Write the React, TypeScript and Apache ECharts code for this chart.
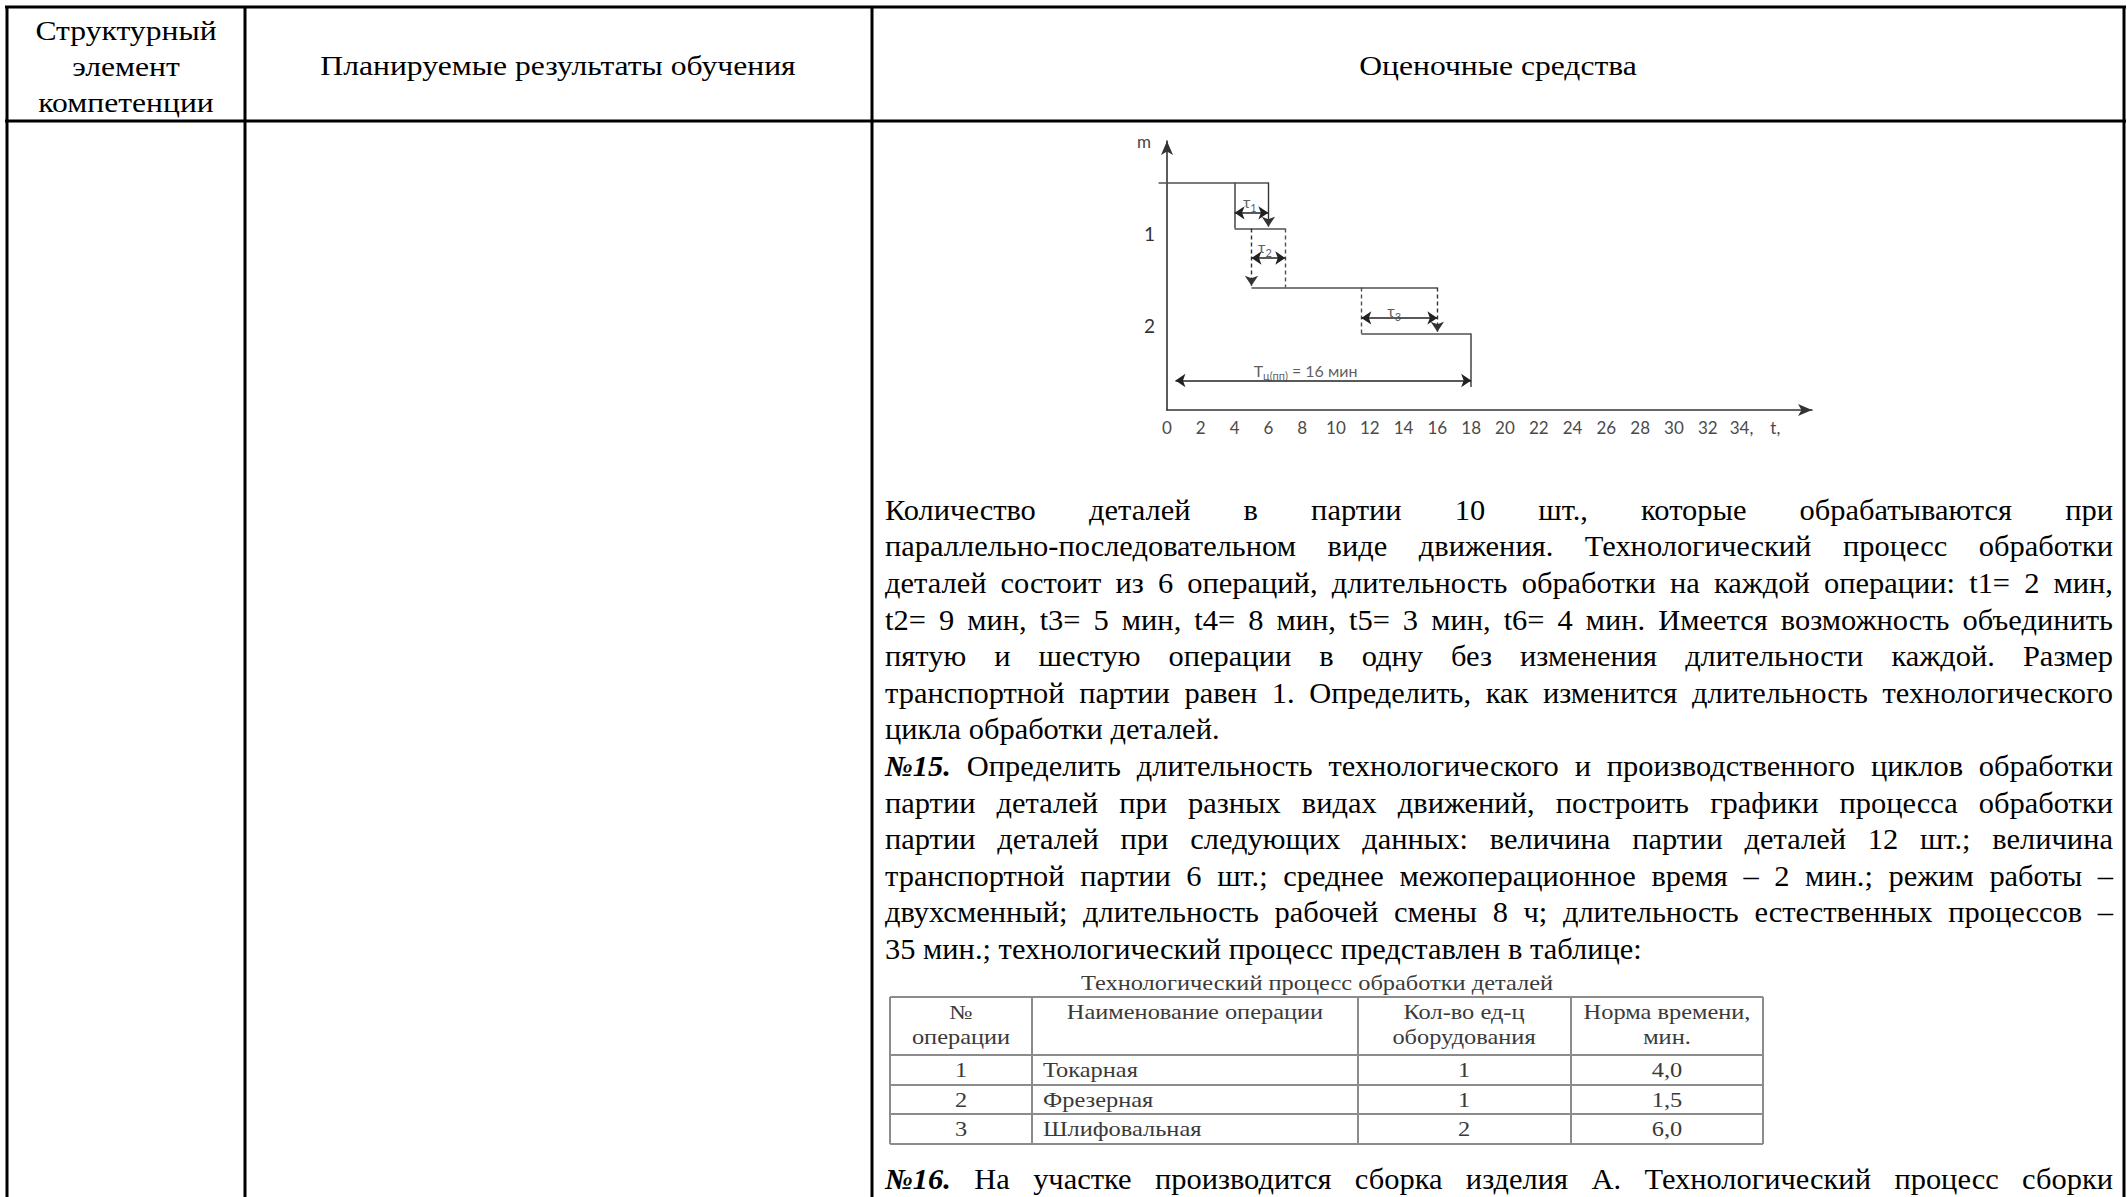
import React, { useEffect, useRef } from 'react';
import * as echarts from 'echarts';

const W = 2127;
const H = 1197;

// ---------- document texts ----------
const headerCol1 = ['Структурный', 'элемент', 'компетенции'];
const headerCol2 = 'Планируемые результаты обучения';
const headerCol3 = 'Оценочные средства';

const bodyLines = [
  { lead: '', text: 'Количество деталей в партии 10 шт., которые обрабатываются при', justify: true },
  { lead: '', text: 'параллельно-последовательном виде движения. Технологический процесс обработки', justify: true },
  { lead: '', text: 'деталей состоит из 6 операций, длительность обработки на каждой операции: t1= 2 мин,', justify: true },
  { lead: '', text: 't2= 9 мин, t3= 5 мин, t4= 8 мин, t5= 3 мин, t6= 4 мин. Имеется возможность объединить', justify: true },
  { lead: '', text: 'пятую и шестую операции в одну без изменения длительности каждой. Размер', justify: true },
  { lead: '', text: 'транспортной партии равен 1. Определить, как изменится длительность технологического', justify: true },
  { lead: '', text: 'цикла обработки деталей.', justify: false },
  { lead: '№15.', text: 'Определить длительность технологического и производственного циклов обработки', justify: true },
  { lead: '', text: 'партии деталей при разных видах движений, построить графики процесса обработки', justify: true },
  { lead: '', text: 'партии деталей при следующих данных: величина партии деталей 12 шт.; величина', justify: true },
  { lead: '', text: 'транспортной партии 6 шт.; среднее межоперационное время – 2 мин.; режим работы –', justify: true },
  { lead: '', text: 'двухсменный; длительность рабочей смены 8 ч; длительность естественных процессов –', justify: true },
  { lead: '', text: '35 мин.; технологический процесс представлен в таблице:', justify: false },
];
const lastLine = { lead: '№16.', text: 'На участке производится сборка изделия А. Технологический процесс сборки', justify: true };

const tableCaption = 'Технологический процесс обработки деталей';
const tableHeader = [
  ['№', 'операции'],
  ['Наименование операции', ''],
  ['Кол-во ед-ц', 'оборудования'],
  ['Норма времени,', 'мин.'],
];
const opNumbers = ['1', '2', '3'];
const opNames = ['Токарная', 'Фрезерная', 'Шлифовальная'];
const opEquipment = ['1', '1', '2'];
const opNorms = ['4,0', '1,5', '6,0'];

// ---------- chart data (t in minutes, m = operation axis, downward) ----------
const solidSegments: number[][][] = [
  [[-0.5, 0.45], [6, 0.45]],
  [[4, 0.45], [4, 0.95]],
  [[4, 0.95], [7, 0.95]],
  [[5, 1.59], [16, 1.59]],
  [[11.5, 2.09], [18, 2.09]],
  [[18, 2.09], [18, 2.67]],
];
const dashedSegments: number[][][] = [
  [[7, 0.95], [7, 1.59]],
  [[11.5, 1.59], [11.5, 2.09]],
];
const solidDownArrows: number[][][] = [
  [[6, 0.45], [6, 0.93]],
];
const dashedDownArrows: number[][][] = [
  [[5, 0.95], [5, 1.57]],
  [[16, 1.59], [16, 2.07]],
];
const doubleArrows: number[][][] = [
  [[4, 0.78], [6, 0.78]],
  [[5, 1.27], [7, 1.27]],
  [[11.5, 1.92], [16, 1.92]],
  [[0.5, 2.6], [18, 2.6]],
];
const tauLabels = [
  { pos: [4.9, 0.66], main: 'τ', sub: '1', tail: '' },
  { pos: [5.8, 1.15], main: 'τ', sub: '2', tail: '' },
  { pos: [13.45, 1.84], main: 'τ', sub: '3', tail: '' },
  { pos: [8.2, 2.49], main: 'T', sub: 'ц(пп)', tail: ' = 16 мин' },
];
const xSpecialLabels: Record<number, string> = { 34: '34,', 36: 't,' };
const yLabels: Record<number, string> = { 1: '1', 2: '2' };

const SERIF = '"Liberation Serif", "Times New Roman", serif';

export default function App() {
  const ref = useRef<HTMLDivElement>(null);

  useEffect(() => {
    const el = ref.current!;
    const chart = echarts.init(el, null, { renderer: 'svg', width: W, height: H });
    const canvas = document.createElement('canvas');
    const ctx = canvas.getContext('2d')!;
    const measure = (s: string, font: string) => {
      ctx.font = font;
      return ctx.measureText(s).width;
    };

    const g: any[] = [];
    const line = (x1: number, y1: number, x2: number, y2: number, stroke: string, lw: number) =>
      g.push({ type: 'line', silent: true, shape: { x1, y1, x2, y2 }, style: { stroke, lineWidth: lw } });
    const text = (t: string, x: number, y: number, opts: any = {}) =>
      g.push({
        type: 'text',
        silent: true,
        x,
        y,
        scaleX: opts.scaleX || 1,
        style: {
          text: t,
          fontFamily: SERIF,
          fontSize: opts.fontSize || 29,
          fontWeight: opts.fontWeight || 'normal',
          fontStyle: opts.fontStyle || 'normal',
          fill: opts.fill || '#000',
          align: opts.align || 'left',
          textAlign: opts.align || 'left',
          verticalAlign: 'middle',
          textVerticalAlign: 'middle',
        },
      });

    // outer table
    const cols = [7, 245, 872, 2124];
    line(5, 7, 2126, 7, '#000', 3);
    line(5, 121, 2126, 121, '#000', 3);
    cols.forEach((x) => line(x, 6, x, H, '#000', 3));

    // header texts
    const hOpt = { fontSize: 28, scaleX: 1.13, align: 'center' };
    headerCol1.forEach((t, i) => text(t, 126, 30 + i * 36, hOpt));
    text(headerCol2, 558, 65, hOpt);
    text(headerCol3, 1498, 65, hOpt);

    // body paragraphs (justified)
    const left = 885;
    const right = 2113;
    const fs = 29;
    const sx = 1.05;
    const fontN = `${fs}px ${SERIF}`;
    const fontBI = `italic bold ${fs}px ${SERIF}`;
    const drawLine = (ln: { lead: string; text: string; justify: boolean }, y: number) => {
      const words: { w: string; bi: boolean }[] = [];
      if (ln.lead) words.push({ w: ln.lead, bi: true });
      ln.text.split(' ').forEach((w) => words.push({ w, bi: false }));
      const raw = words.map((o) => measure(o.w, o.bi ? fontBI : fontN));
      const rawTotal = raw.reduce((a, b) => a + b, 0);
      const space = measure(' ', fontN);
      let s = sx;
      if (ln.justify && rawTotal * s + (words.length - 1) * space * 0.8 > right - left) {
        s = (right - left - (words.length - 1) * space * 0.8) / rawTotal;
      }
      const widths = raw.map((w) => w * s);
      const total = widths.reduce((a, b) => a + b, 0);
      const gap = ln.justify && words.length > 1 ? (right - left - total) / (words.length - 1) : space * s;
      let x = left;
      words.forEach((o, i) => {
        text(o.w, x, y, {
          fontSize: fs,
          scaleX: s,
          fontWeight: o.bi ? 'bold' : 'normal',
          fontStyle: o.bi ? 'italic' : 'normal',
        });
        x += widths[i] + gap;
      });
    };
    bodyLines.forEach((ln, i) => drawLine(ln, 510 + i * 36.6));
    drawLine(lastLine, 1179);

    // inner table
    const tStroke = '#8c8c8c';
    const tFill = '#3a3a3a';
    const tOpt = (align: string) => ({ fontSize: 20, scaleX: 1.22, fill: tFill, align });
    text(tableCaption, 1317, 983, tOpt('center'));
    const tCols = [890, 1032, 1358, 1571, 1763];
    const tRows = [997, 1055, 1085, 1114, 1144];
    tRows.forEach((y) => line(890, y, 1763, y, tStroke, 2));
    tCols.forEach((x) => line(x, 997, x, 1144, tStroke, 2));
    const centers = [961, 1195, 1464, 1667];
    tableHeader.forEach((cell, c) => {
      if (cell[0]) text(cell[0], centers[c], 1012, tOpt('center'));
      if (cell[1]) text(cell[1], centers[c], 1037, tOpt('center'));
    });
    const rowY = [1070, 1100, 1129];
    opNumbers.forEach((n, r) => {
      text(n, centers[0], rowY[r], tOpt('center'));
      text(opNames[r], 1043, rowY[r], tOpt('left'));
      text(opEquipment[r], centers[2], rowY[r], tOpt('center'));
      text(opNorms[r], centers[3], rowY[r], tOpt('center'));
    });

    const toLines = (segs: number[][][]) => segs.map((s) => ({ coords: s }));
    const lineColor = '#505050';
    const option: any = {
      animation: false,
      backgroundColor: '#fff',
      graphic: g,
      grid: { left: 1167, top: 141, width: 645, height: 269, containLabel: false },
      xAxis: {
        type: 'value',
        min: 0,
        max: 38.17,
        interval: 2,
        axisLine: {
          show: true,
          onZero: false,
          symbol: ['none', 'arrow'],
          symbolSize: [9, 14],
          lineStyle: { color: '#333', width: 1.6 },
        },
        axisTick: { show: false },
        splitLine: { show: false },
        axisLabel: {
          margin: 9,
          fontSize: 17,
          fontFamily: 'Lato',
          color: '#4a4a4a',
          showMaxLabel: false,
          formatter: (v: number) => (v > 36 ? '' : xSpecialLabels[v] ?? String(v)),
        },
      },
      yAxis: {
        type: 'value',
        inverse: true,
        min: 0,
        max: 2.92,
        interval: 1,
        name: 'm',
        nameLocation: 'start',
        nameGap: 0,
        nameTextStyle: { fontSize: 17, fontFamily: 'Lato', color: '#444', align: 'right', verticalAlign: 'middle', padding: [0, 16, 0, 0] },
        axisLine: {
          show: true,
          onZero: false,
          symbol: ['none', 'arrow'],
          symbolSize: [9, 14],
          lineStyle: { color: '#333', width: 1.6 },
        },
        axisTick: { show: false },
        splitLine: { show: false },
        axisLabel: {
          margin: 12,
          fontSize: 19,
          fontFamily: 'Lato',
          color: '#333',
          formatter: (v: number) => yLabels[v] ?? '',
        },
      },
      series: [
        {
          type: 'lines',
          coordinateSystem: 'cartesian2d',
          clip: false,
          silent: true,
          symbol: ['none', 'none'],
          lineStyle: { color: lineColor, width: 1.6, type: 'solid', opacity: 1 },
          data: toLines(solidSegments),
        },
        {
          type: 'lines',
          coordinateSystem: 'cartesian2d',
          clip: false,
          silent: true,
          symbol: ['none', 'none'],
          lineStyle: { color: lineColor, width: 1.4, type: [4, 3], opacity: 1 },
          data: toLines(dashedSegments),
        },
        {
          type: 'lines',
          coordinateSystem: 'cartesian2d',
          clip: false,
          silent: true,
          symbol: ['none', 'arrow'],
          symbolSize: 10,
          lineStyle: { color: '#333', width: 1.4, type: 'solid', opacity: 1 },
          data: toLines(solidDownArrows),
        },
        {
          type: 'lines',
          coordinateSystem: 'cartesian2d',
          clip: false,
          silent: true,
          symbol: ['none', 'arrow'],
          symbolSize: 10,
          lineStyle: { color: '#333', width: 1.4, type: [4, 3], opacity: 1 },
          data: toLines(dashedDownArrows),
        },
        {
          type: 'lines',
          coordinateSystem: 'cartesian2d',
          clip: false,
          silent: true,
          symbol: ['arrow', 'arrow'],
          symbolSize: 10,
          lineStyle: { color: '#222', width: 1.7, type: 'solid', opacity: 1 },
          data: toLines(doubleArrows),
        },
        {
          type: 'scatter',
          silent: true,
          symbolSize: 1,
          itemStyle: { color: 'transparent' },
          data: tauLabels.map((l) => ({ value: l.pos, lbl: l })),
          label: {
            show: true,
            position: 'inside',
            color: '#333',
            formatter: (p: any) => `{t|${p.data.lbl.main}}{s|${p.data.lbl.sub}}` + (p.data.lbl.tail ? `{t|${p.data.lbl.tail}}` : ''),
            rich: {
              t: { fontSize: 16, fontFamily: 'Lato', color: '#333', lineHeight: 22, verticalAlign: 'middle' },
              s: { fontSize: 11, fontFamily: 'Lato', color: '#333', lineHeight: 22, verticalAlign: 'bottom' },
            },
          },
        },
      ],
    };
    chart.setOption(option);
    return () => chart.dispose();
  }, []);

  return <div ref={ref} style={{ position: 'absolute', left: 0, top: 0, width: W, height: H, background: '#fff' }} />;
}
